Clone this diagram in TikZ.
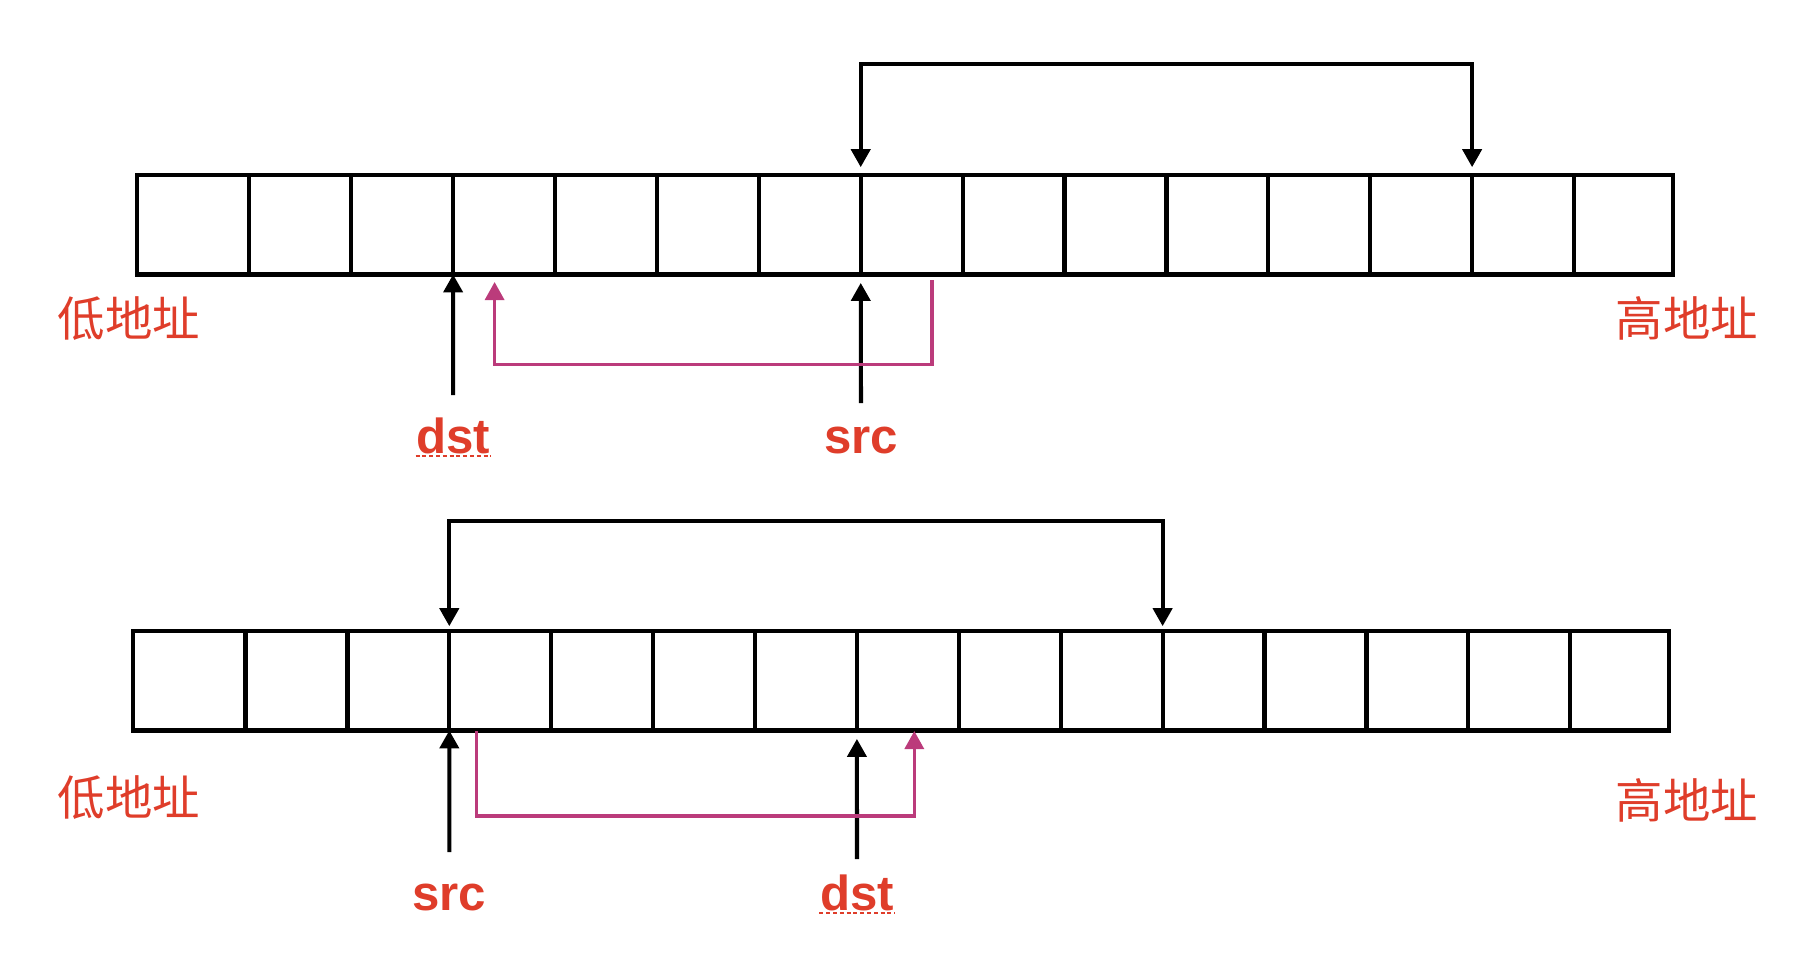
\documentclass[tikz,border=0pt]{standalone}
\usepackage{fontspec}
\setmainfont{Liberation Sans}
\newfontfamily\cjk{Noto Sans CJK SC}
\usetikzlibrary{arrows.meta}
\definecolor{cellline}{RGB}{0,0,0}
\definecolor{labelred}{RGB}{223,61,42}
\definecolor{moveline}{RGB}{187,59,123}

\begin{document}
\begin{tikzpicture}[
  x=0.1mm, y=-0.1mm,
  >={Triangle[length=1.8mm,width=1.9mm]},
  cell/.style={
    draw=cellline, line width=1.2pt, inner sep=0pt, outer sep=0pt,
    minimum height=9.97mm, anchor=north west
  },
  memlink/.style={draw=cellline, line width=1.15pt},
  movelink/.style={draw=moveline, line width=0.95pt},
  ptr/.style={
    text=labelred, font=\fontsize{14}{16}\selectfont\bfseries,
    inner sep=0pt, anchor=base
  },
  addr/.style={text=labelred, font=\fontsize{13.5}{16}\selectfont\cjk, inner sep=0pt},
  spell/.style={draw=labelred, line width=0.2mm, dash pattern=on 0.4mm off 0.28mm},
]
\useasboundingbox (0,0) rectangle (1818,952);

% ---- Memory cells (two rows of 15) ----
\foreach \row/\dx/\dy in {a/0/0, b/-3.8/456} {
  \foreach \i in {1,...,15} {
    \pgfmathsetmacro\xl{\i==1 ? 136.8 : 249.3+(\i-2)*101.9}
    \pgfmathsetmacro\xr{\i==15 ? 1673 : 249.3+(\i-1)*101.9}
    \pgfmathsetmacro\w{(\xr-\xl)/10}
    \pgfmathsetmacro\cx{\xl+\dx}
    \pgfmathsetmacro\cy{174.7+\dy}
    \node[cell, minimum width=\w mm] (\row\i) at (\cx, \cy) {};
  }
}

% ---- Address labels ----
\node[addr] (lowA)  at (129, 319)  {低地址};
\node[addr] (highA) at (1687, 318) {高地址};
\node[addr] (lowB)  at (129, 798)  {低地址};
\node[addr] (highB) at (1687, 800) {高地址};

% ---- Pointer labels ----
\node[ptr] (dstA) at (453.2, 453) {dst};
\node[ptr] (srcA) at (861, 453)   {src};
\node[ptr] (srcB) at (449, 910)   {src};
\node[ptr] (dstB) at (857, 910)   {dst};
\draw[spell] ([yshift=-0.3mm]dstA.base west) -- ([yshift=-0.3mm]dstA.base east);
\draw[spell] ([yshift=-0.3mm]dstB.base west) -- ([yshift=-0.3mm]dstB.base east);

% ---- Free ends of the arrows ----
\coordinate (dstA-s) at (453.2, 395);
\coordinate (srcA-s) at (861, 403);
\coordinate (srcB-s) at (449.3, 852);
\coordinate (dstB-s) at (857, 859);
\coordinate (mvA-s) at (932, 280);
\coordinate (mvA-e) at (494.6, 282);
\coordinate (mvB-s) at (476.4, 731);
\coordinate (mvB-e) at (914.3, 731);

% ---- Pointers ----
\draw[memlink, ->] (dstA-s) -- (a4.south west);
\draw[memlink, ->, shorten >=0.85mm] (srcA-s) -- (a8.south west);
\draw[memlink, ->] (srcB-s) -- (b4.south west);
\draw[memlink, ->, shorten >=0.85mm] (dstB-s) -- (b8.south west);

% ---- Span brackets ----
\draw[memlink, <->, shorten <=0.75mm, shorten >=0.75mm]
  (a8.north west) -- ++(0,-110.4) -| (a14.north west);
\draw[memlink, <->, shorten <=0.45mm, shorten >=0.45mm]
  (b4.north west) -- ++(0,-110.1) -| (b11.north west);

% ---- Copy direction ----
\draw[movelink, ->] (mvA-s) -- ++(0,84.3) -| (mvA-e);
\draw[movelink, ->] (mvB-s) -- ++(0,85) -| (mvB-e);

\end{tikzpicture}
\end{document}
